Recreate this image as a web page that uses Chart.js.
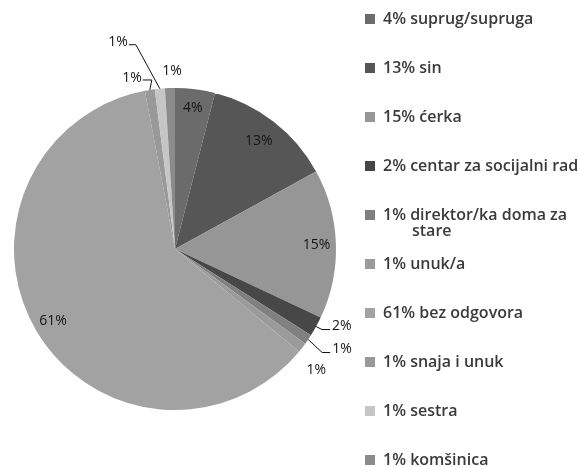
<!DOCTYPE html>
<html>
<head>
<meta charset="utf-8">
<script src="https://cdn.jsdelivr.net/npm/chart.js@4"></script>
<style>
  html, body { margin: 0; padding: 0; background: #fff; }
  #wrap { position: relative; width: 578px; height: 467px; }
</style>
</head>
<body>
<div id="wrap"><canvas id="pie"></canvas></div>
<script>
// Ko se brine o ispitaniku - raspodjela odgovora
const kategorije = [
  'suprug/supruga',
  'sin',
  'ćerka',
  'centar za socijalni rad',
  'direktor/ka doma za stare',
  'unuk/a',
  'bez odgovora',
  'snaja i unuk',
  'sestra',
  'komšinica'
];
const procenti = [4, 13, 15, 2, 1, 1, 61, 1, 1, 1];

const boje = ['#6b6b6b', '#565656', '#969696', '#474747', '#808080',
              '#9b9b9b', '#a2a2a2', '#999999', '#c6c6c6', '#8b8b8b'];

// kako se crta oznaka svakog isječka: unutra, vani sa linijom ili samo vani
const oznake = [
  { unutra: 0.88 },
  { unutra: 0.85 },
  { unutra: 0.88 },
  { lakat: [6, 3], duz: 8, dy: -4 },
  { lakat: [14, 13], duz: 8, dy: -3 },
  { pomak: [14, 22] },
  { unutra: 0.88 },
  { lakat: [2, -10], duz: -9, dy: -2 },
  { lakat: [-24, -44], duz: -7, dy: -3 },
  { pomak: [2, -17] }
];

const FONT = '"Open Sans", "DejaVu Sans", sans-serif';

const oznakePlugin = {
  id: 'oznakeIsjecaka',
  afterDatasetsDraw(chart) {
    const ctx = chart.ctx;
    const meta = chart.getDatasetMeta(0);
    ctx.save();
    ctx.font = '14px ' + FONT;
    ctx.fillStyle = '#151515';
    ctx.strokeStyle = '#111';
    ctx.lineWidth = 1;
    ctx.textBaseline = 'middle';
    meta.data.forEach((arc, i) => {
      const p = arc.getProps(['x', 'y', 'startAngle', 'endAngle', 'outerRadius'], true);
      const ugao = (p.startAngle + p.endAngle) / 2;
      const cos = Math.cos(ugao), sin = Math.sin(ugao);
      const tekst = procenti[i] + '%';
      const o = oznake[i];
      if (o.unutra) {
        ctx.textAlign = 'center';
        ctx.fillText(tekst, p.x + cos * p.outerRadius * o.unutra, p.y + sin * p.outerRadius * o.unutra);
        return;
      }
      const ax = p.x + cos * p.outerRadius;
      const ay = p.y + sin * p.outerRadius;
      if (o.pomak) {
        ctx.textAlign = 'center';
        ctx.fillText(tekst, ax + o.pomak[0], ay + o.pomak[1]);
        return;
      }
      const ex = ax + o.lakat[0], ey = ay + o.lakat[1];
      const kx = ex + o.duz;
      ctx.beginPath();
      ctx.moveTo(ax, ay);
      ctx.lineTo(ex, ey);
      ctx.lineTo(kx, ey);
      ctx.stroke();
      ctx.textAlign = o.duz > 0 ? 'left' : 'right';
      ctx.fillText(tekst, kx + (o.duz > 0 ? 2 : -1), ey + o.dy);
    });
    ctx.restore();
  }
};

// legenda desno, fiksni razmak redova
const legendaPlugin = {
  id: 'legendaDesno',
  afterDraw(chart) {
    const ctx = chart.ctx;
    const boxX = 365, textX = 383, y0 = 19, korak = 49, maxW = 196, uvlaka = 29;
    ctx.save();
    ctx.font = '600 16px ' + FONT;
    ctx.textBaseline = 'middle';
    ctx.textAlign = 'left';
    kategorije.forEach((k, i) => {
      const y = y0 + i * korak;
      ctx.fillStyle = boje[i];
      ctx.fillRect(boxX, y - 5, 10, 10);
      ctx.fillStyle = '#3a3a3a';
      // prelamanje dugih naziva u dva reda
      const rijeci = (procenti[i] + '% ' + k).split(' ');
      let red = '', ly = y, prvi = true;
      rijeci.forEach(r => {
        const probni = red ? red + ' ' + r : r;
        if (red && ctx.measureText(probni).width > maxW) {
          ctx.fillText(red, textX + (prvi ? 0 : uvlaka), ly);
          prvi = false;
          ly += 16;
          red = r;
        } else {
          red = probni;
        }
      });
      ctx.fillText(red, textX + (prvi ? 0 : uvlaka), ly);
    });
    ctx.restore();
  }
};

new Chart(document.getElementById('pie'), {
  type: 'pie',
  data: {
    labels: kategorije,
    datasets: [{
      data: procenti,
      backgroundColor: boje,
      borderWidth: 0
    }]
  },
  options: {
    responsive: true,
    maintainAspectRatio: false,
    animation: false,
    layout: { padding: { left: 14, right: 242, top: 88, bottom: 57 } },
    plugins: {
      legend: { display: false },
      tooltip: { enabled: false }
    }
  },
  plugins: [oznakePlugin, legendaPlugin]
});
</script>
</body>
</html>
